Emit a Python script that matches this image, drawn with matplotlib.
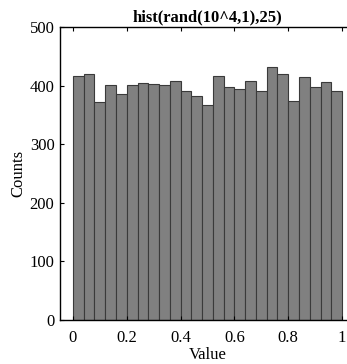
import numpy as np
import matplotlib.pyplot as plt

# histogram of 10^4 uniform samples, 25 bins
counts = [417, 419, 372, 401, 386, 401, 405, 403, 401, 408, 390, 382, 367,
          416, 397, 395, 408, 390, 432, 420, 374, 414, 398, 406, 390]
edges = np.linspace(0, 1, len(counts) + 1)
xticks = [0, 0.2, 0.4, 0.6, 0.8, 1]
yticks = [0, 100, 200, 300, 400, 500]

plt.rcParams['font.family'] = ['Liberation Serif', 'DejaVu Serif']
plt.rcParams['font.size'] = 12

W, H = 347, 364
fig = plt.figure(figsize=(W / 100, H / 100), dpi=100)
# axes runs past the right edge of the image, like the cropped original
ax = fig.add_axes([60 / W, (H - 320) / H, (355 - 60) / W, 293 / H])

ax.bar(edges[:-1], counts, width=np.diff(edges), align='edge',
       color='#808080', edgecolor='#3a3a3a', linewidth=0.8)

ax.set_xlim(-0.048, 1.048)
ax.set_ylim(0, 500)
ax.set_xticks(xticks)
ax.set_xticklabels(['0', '0.2', '0.4', '0.6', '0.8', '1'])
ax.set_yticks(yticks)
ax.tick_params(direction='in', length=3, width=0.8, top=True, right=True)
ax.tick_params(axis='x', pad=7)
ax.tick_params(axis='y', pad=4)
for s in ax.spines.values():
    s.set_linewidth(1.0)

ax.set_title('hist(rand(10^4,1),25)', fontweight='bold', fontsize=12, pad=4)
ax.set_xlabel('Value', labelpad=1)
ax.set_ylabel('Counts', labelpad=2)

fig.savefig('out.png', dpi=100)
